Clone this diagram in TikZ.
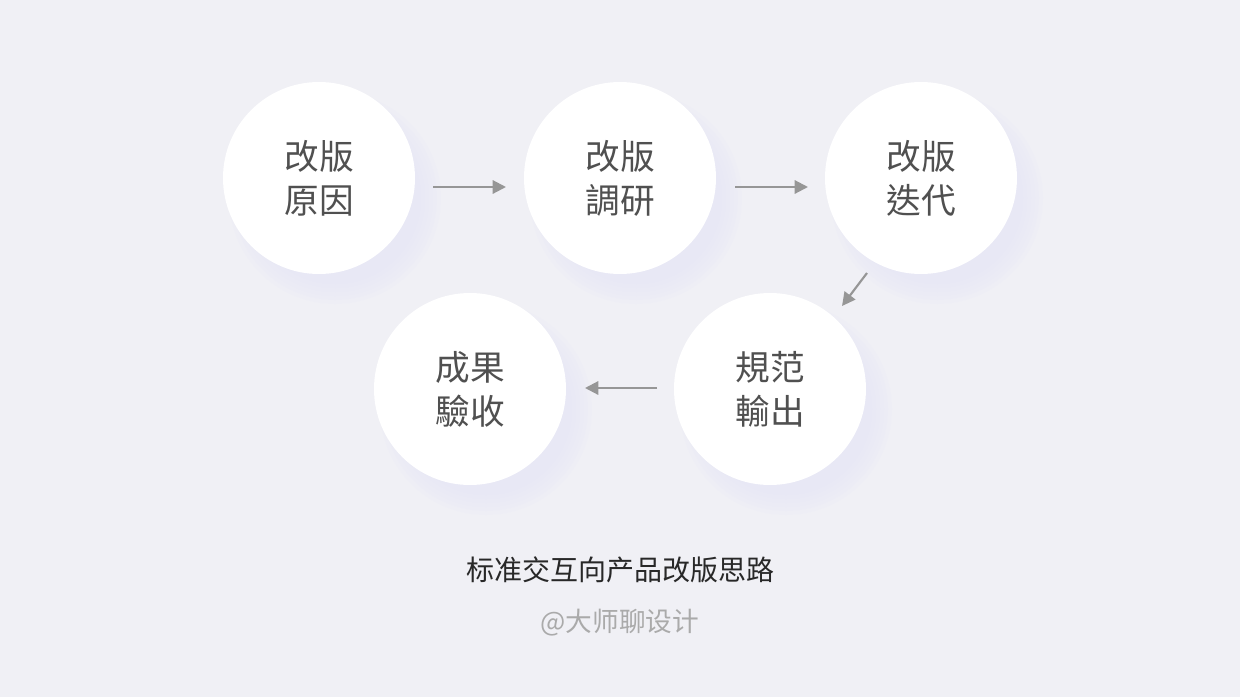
\documentclass[tikz,border=0pt]{standalone}
\usepackage{fontspec}
\newfontfamily\cjk{Noto Sans CJK TC}
\newfontfamily\cjksc{Noto Sans CJK SC}
\usetikzlibrary{arrows.meta}
\definecolor{bg}{RGB}{240,240,245}
\definecolor{glow}{RGB}{222,222,246}
\definecolor{arr}{RGB}{150,150,150}
\definecolor{txt}{RGB}{80,80,80}
\definecolor{ttl}{RGB}{40,40,40}
\definecolor{sub}{RGB}{170,170,170}
\tikzset{
  stepnode/.style={circle, fill=white, minimum size=144pt, inner sep=0pt,
    align=center, font=\cjk\fontsize{26}{33}\selectfont, text=txt},
  flow/.style={draw=arr, line width=1.6pt, -{Triangle[length=10pt,width=10pt]}},
}
\newcommand{\glowat}[2]{%
  \foreach \r in {106,102,...,86}{\fill[glow, opacity=0.07] (#1+16,#2+20) circle[radius=\r*0.75pt];}%
}
\begin{document}
\begin{tikzpicture}[x=0.75pt, y=-0.75pt]
\fill[bg] (0,0) rectangle (1240,697);
\useasboundingbox (0,0) rectangle (1240,697);
\glowat{319}{178}
\glowat{620}{178}
\glowat{921}{178}
\glowat{770}{389}
\glowat{470}{389}
\node[stepnode] (a) at (319,178) {改版\\原因};
\node[stepnode] (b) at (620,178) {改版\\調研};
\node[stepnode] (c) at (921,178) {改版\\迭代};
\node[stepnode] (d) at (770,389) {規范\\輸出};
\node[stepnode] (e) at (470,389) {成果\\驗收};
\coordinate (a1) at (433,187); \coordinate (a2) at (506,187);
\coordinate (b1) at (735,187); \coordinate (b2) at (808,187);
\coordinate (c1) at (867,273); \coordinate (c2) at (842,306);
\coordinate (d1) at (657,388); \coordinate (d2) at (585,388);
\draw[flow] (a1) -- (a2);
\draw[flow] (b1) -- (b2);
\draw[flow] (c1) -- (c2);
\draw[flow] (d1) -- (d2);
\node[font=\cjksc\fontsize{21}{24}\selectfont, text=ttl] (title) at (620,570) {标准交互向产品改版思路};
\node[font=\cjksc\fontsize{20}{24}\selectfont, text=sub] (author) at (620,623) {@大师聊设计};
\end{tikzpicture}
\end{document}
